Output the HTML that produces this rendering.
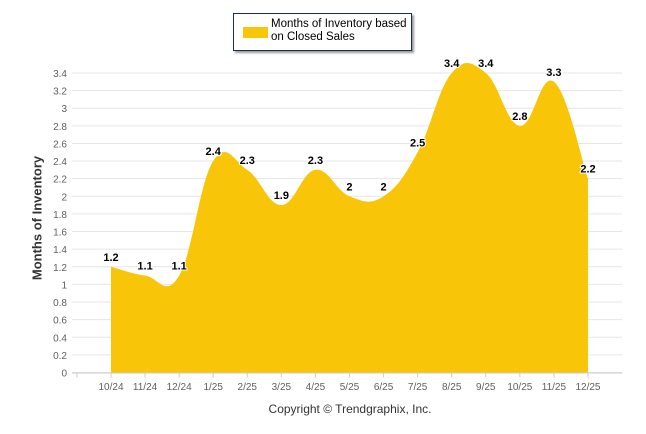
<!DOCTYPE html>
<html><head><meta charset="utf-8"><style>
body{margin:0;background:#fff;font-family:"Liberation Sans",Arial,sans-serif}
svg{display:block}
</style></head><body>
<svg id="chart" width="646" height="434"></svg>
<script>
const categories=["10/24","11/24","12/24","1/25","2/25","3/25","4/25","5/25","6/25","7/25","8/25","9/25","10/25","11/25","12/25"];
const values=[1.2,1.1,1.1,2.4,2.3,1.9,2.3,2,2,2.5,3.4,3.4,2.8,3.3,2.2];
const yTicks=[0,0.2,0.4,0.6,0.8,1,1.2,1.4,1.6,1.8,2,2.2,2.4,2.6,2.8,3,3.2,3.4];
const NS="http://www.w3.org/2000/svg";
const svg=document.getElementById('chart');
const X0=111,DX=34.07,Y0=372.5,YK=88.1;
const xs=i=>X0+i*DX, ys=v=>Y0-v*YK;
function mk(t,a,p){const e=document.createElementNS(NS,t);for(const k in a)e.setAttribute(k,a[k]);(p||svg).appendChild(e);return e;}
yTicks.forEach(v=>{
  const l=mk('line',{x1:72,x2:622,y1:ys(v),y2:ys(v),stroke:'#e6e6e6','stroke-width':1});
  
  
  const t=mk('text',{x:67,y:ys(v)+4,'text-anchor':'end','font-size':10,fill:'#606060'});
  t.textContent=v;
  
  
});
const ax=mk('line',{x1:72,x2:622,y1:Y0+0.5,y2:Y0+0.5,stroke:'#ccc'});


for(let i=-1;i<categories.length;i++){
  mk('line',{x1:xs(i),x2:xs(i),y1:Y0,y2:Y0+5,stroke:'#ccc'});
}
categories.forEach((c,i)=>{
  const t=mk('text',{x:xs(i),y:390,'text-anchor':'middle','font-size':10,fill:'#606060'});
  t.textContent=c;
  
  
});
const pts=values.map((v,i)=>[xs(i),ys(v)]);
let d=`M${pts[0][0]},${Y0} L${pts[0][0]},${pts[0][1]}`;
for(let i=0;i<pts.length-1;i++){
  const p0=pts[i-1]||pts[i],p1=pts[i],p2=pts[i+1],p3=pts[i+2]||pts[i+1];
  const t=1/5;
  const c1=[p1[0]+(p2[0]-p0[0])*t,p1[1]+(p2[1]-p0[1])*t];
  const c2=[p2[0]-(p3[0]-p1[0])*t,p2[1]-(p3[1]-p1[1])*t];
  d+=` C${c1[0]},${c1[1]} ${c2[0]},${c2[1]} ${p2[0]},${p2[1]}`;
}
d+=` L${pts[pts.length-1][0]},${Y0} Z`;
const area=mk('path',{d:d,fill:'#f8c508'});


values.forEach((v,i)=>{
  const t=mk('text',{x:xs(i),y:ys(v)-6,'text-anchor':'middle','font-size':11,'font-weight':'bold',fill:'#000',stroke:'#fff','stroke-width':2,'paint-order':'stroke'});
  t.textContent=v;
  
  
});
</script>
<div style="position:absolute;left:37px;top:218px;transform:translate(-50%,-50%) rotate(-90deg);font-size:13px;font-weight:bold;color:#333;white-space:nowrap">Months of Inventory</div>
<div style="position:absolute;left:233px;top:13px;width:177px;height:36px;border:1px solid #1c2d55;box-shadow:2px 2px 2px #999;background:#fff">
  <div style="position:absolute;left:9px;top:13px;width:25px;height:11px;background:#f8c508"></div>
  <div style="position:absolute;left:37px;top:4px;font-size:11.5px;line-height:13px;color:#000;white-space:nowrap">Months of Inventory based<br>on Closed Sales</div>
</div>
<div style="position:absolute;left:0;width:700px;top:402px;text-align:center;font-size:12px;color:#333">Copyright © Trendgraphix, Inc.</div>
</body></html>
